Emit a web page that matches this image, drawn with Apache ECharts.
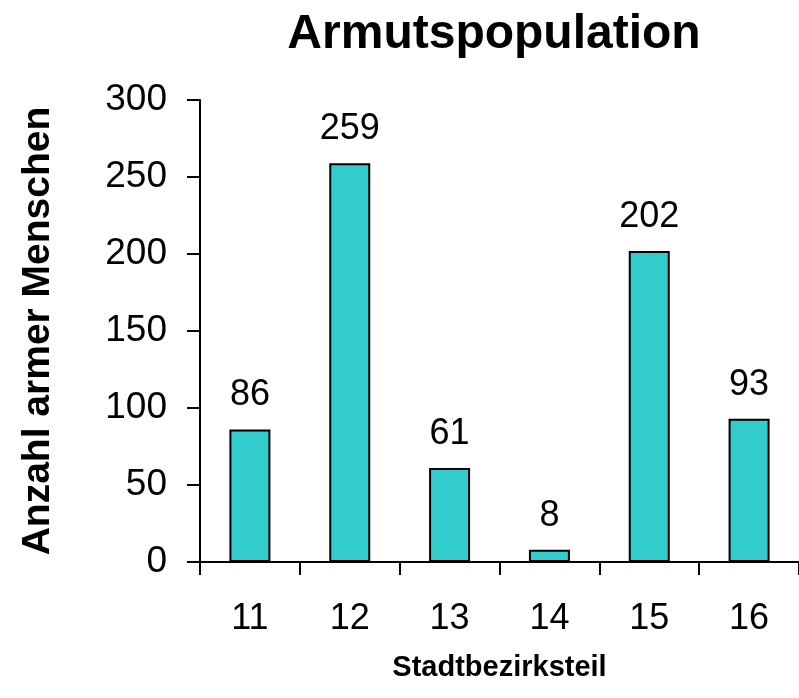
<!DOCTYPE html>
<html>
<head>
<meta charset="utf-8">
<script src="https://cdn.jsdelivr.net/npm/echarts@6/dist/echarts.min.js"></script>
<style>html,body{margin:0;padding:0;background:#fff;}#c{width:799px;height:698px;}</style>
</head>
<body>
<div id="c"></div>
<script>
const titleText = "Armutspopulation";
const xAxisName = "Stadtbezirksteil";
const yAxisName = "Anzahl armer Menschen";
const categories = ["11", "12", "13", "14", "15", "16"];
const values = [86, 259, 61, 8, 202, 93];

const FONT = "Liberation Sans, Arial, sans-serif";
const chart = echarts.init(document.getElementById('c'));
chart.setOption({
  backgroundColor: '#ffffff',
  animation: false,
  title: {
    text: titleText,
    left: 489,
    top: 6,
    textAlign: 'center',
    textStyle: { fontFamily: FONT, fontSize: 48, fontWeight: 'bold', color: '#000' }
  },
  grid: { left: 200, right: -7, top: 100, bottom: 136, containLabel: false },
  xAxis: {
    type: 'category',
    data: categories,
    name: xAxisName,
    nameLocation: 'middle',
    nameGap: 91,
    nameTextStyle: { fontFamily: FONT, fontSize: 29, fontWeight: 'bold', color: '#000' },
    axisLine: { lineStyle: { color: '#000', width: 2 } },
    axisTick: { show: true, length: 13, lineStyle: { color: '#000', width: 2 }, alignWithLabel: false },
    axisLabel: { fontFamily: FONT, fontSize: 36, color: '#000', margin: 39 },
    splitLine: { show: false }
  },
  yAxis: {
    type: 'value',
    min: 0, max: 300, interval: 50,
    name: yAxisName,
    nameLocation: 'middle',
    nameGap: 142,
    nameRotate: 90,
    nameTextStyle: { fontFamily: FONT, fontSize: 39, fontWeight: 'bold', color: '#000' },
    axisLine: { show: true, lineStyle: { color: '#000', width: 2 } },
    axisTick: { show: true, length: 13, lineStyle: { color: '#000', width: 2 } },
    axisLabel: { fontFamily: FONT, fontSize: 37, color: '#000', margin: 33 },
    splitLine: { show: false }
  },
  series: [{
    type: 'bar',
    data: values,
    barWidth: 41,
    itemStyle: { color: '#33CCCC', borderColor: '#000', borderWidth: 2 },
    label: { show: true, position: 'top', distance: 16, fontFamily: FONT, fontSize: 36, color: '#000' }
  }]
});
</script>
</body>
</html>
